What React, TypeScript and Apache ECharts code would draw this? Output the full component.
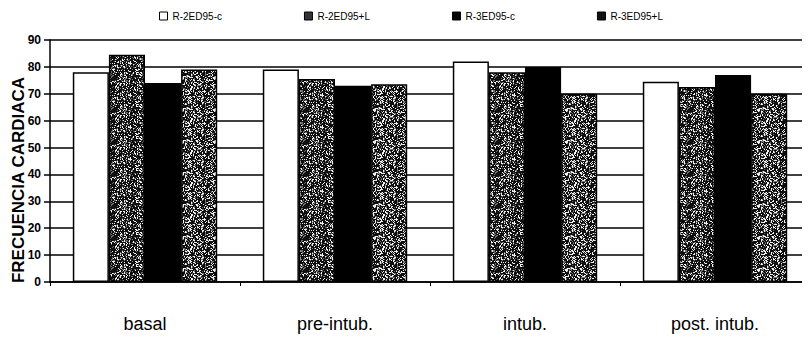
import React, { useEffect, useRef } from "react";
import * as echarts from "echarts";

const categories = ["basal", "pre-intub.", "intub.", "post. intub."];
const seriesNames = ["R-2ED95-c", "R-2ED95+L", "R-3ED95-c", "R-3ED95+L"];
const r2c = [78, 79, 82, 74.5];
const r2l = [84.5, 75.5, 78, 72.5];
const r3c = [74, 73, 80, 77];
const r3l = [79, 73.5, 70, 70];
const yTicks = [0, 10, 20, 30, 40, 50, 60, 70, 80, 90];
const yTitle = "FRECUENCIA CARDIACA";

function speckle(seed: number, dark: number): string {
  const size = 32;
  const c = document.createElement("canvas");
  c.width = size;
  c.height = size;
  const ctx = c.getContext("2d")!;
  const img = ctx.createImageData(size, size);
  let s = seed;
  for (let i = 0; i < size * size; i++) {
    s = (s * 1103515245 + 12345) & 0x7fffffff;
    const v = (s >> 8) % 256;
    const g = v < dark ? 15 : v < dark + 40 ? 110 : 240;
    img.data[i * 4] = g;
    img.data[i * 4 + 1] = g;
    img.data[i * 4 + 2] = g;
    img.data[i * 4 + 3] = 255;
  }
  ctx.putImageData(img, 0, 0);
  return c.toDataURL();
}

export default function App() {
  const ref = useRef<HTMLDivElement>(null);
  useEffect(() => {
    if (!ref.current) return;
    const chart = echarts.init(ref.current, null, { renderer: "svg" });
    const p1 = { image: speckle(7, 165), repeat: "repeat", imageWidth: 32, imageHeight: 32 } as any;
    const p2 = { image: speckle(31, 150), repeat: "repeat", imageWidth: 32, imageHeight: 32 } as any;
    const fills: any[] = ["#ffffff", p1, "#000000", p2];
    const legendColors = ["#ffffff", "#333333", "#000000", "#111111"];
    const datas = [r2c, r2l, r3c, r3l];
    const font = "'Liberation Sans', Arial, sans-serif";
    chart.setOption({
      animation: false,
      backgroundColor: "#ffffff",
      legend: {
        top: 6,
        left: 154,
        itemWidth: 8,
        itemHeight: 8,
        itemGap: 82,
        textStyle: { fontSize: 10, color: "#000", fontFamily: font },
        data: seriesNames.map((n, i) => ({
          name: n,
          icon: "rect",
          itemStyle: { color: legendColors[i], borderColor: "#000", borderWidth: 1 },
        })),
      },
      graphic: [
        {
          type: "text",
          x: 18,
          y: 180,
          rotation: Math.PI / 2,
          style: {
            text: yTitle,
            font: "bold 17px 'Liberation Sans', Arial, sans-serif",
            fill: "#000",
            align: "center",
            verticalAlign: "middle",
          },
        },
      ],
      grid: { left: 50, right: 0, top: 40, bottom: 78 },
      xAxis: {
        type: "category",
        data: categories,
        axisLine: { lineStyle: { color: "#000", width: 1.5 } },
        axisTick: { show: true, length: 4, lineStyle: { color: "#000" } },
        axisLabel: { fontSize: 18, color: "#000", margin: 33, fontFamily: font },
      },
      yAxis: {
        type: "value",
        min: 0,
        max: 90,
        interval: 10,
        axisLine: { show: true, lineStyle: { color: "#000", width: 1.5 } },
        axisTick: { show: true, length: 6, lineStyle: { color: "#000", width: 1.5 } },
        axisLabel: {
          fontSize: 12,
          fontWeight: "bold",
          color: "#000",
          margin: 9,
          fontFamily: font,
          formatter: (v: number) => (yTicks.includes(v) ? String(v) : ""),
        },
        splitLine: { show: true, lineStyle: { color: "#000", width: 1.5 } },
      },
      series: datas.map((d, i) => ({
        name: seriesNames[i],
        type: "bar",
        data: d,
        barGap: "0%",
        barCategoryGap: "24%",
        itemStyle: { color: fills[i], borderColor: "#000", borderWidth: 1.5 },
      })),
    });
    return () => chart.dispose();
  }, []);
  return <div ref={ref} style={{ width: 810, height: 360, margin: -8 }} />;
}
